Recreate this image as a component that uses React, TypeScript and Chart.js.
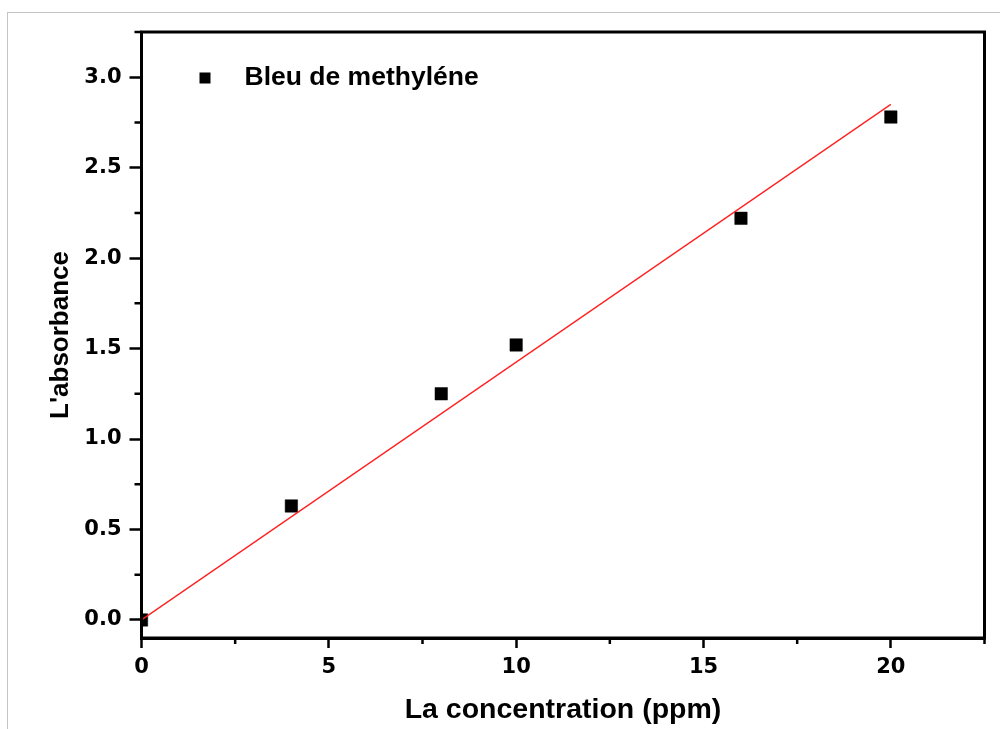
import { useEffect, useRef } from "react";
import { Chart, registerables } from "chart.js";

Chart.register(...registerables);

// Calibration data: methylene blue absorbance vs concentration
const seriesLabel = "Bleu de methyléne";
const concentrations = [0, 4, 8, 10, 16, 20];
const absorbances = [0, 0.63, 1.25, 1.52, 2.22, 2.78];

// Linear fit (through origin) end points
const fitX = [0, 20];
const fitY = [0, 2.85];

// Axis ranges and tick values
const xRange = [0, 22.5];
const yRange = [-0.1, 3.25];
const xMajorTicks = [0, 5, 10, 15, 20];
const xMinorTicks = [2.5, 7.5, 12.5, 17.5, 22.5];
const yMajorTicks = [0, 0.5, 1.0, 1.5, 2.0, 2.5, 3.0];
const yMinorTicks = [0.25, 0.75, 1.25, 1.75, 2.25, 2.75, 3.25];

const xTitle = "La concentration (ppm)";
const yTitle = "L'absorbance";

const TEXT_FONT = "'Liberation Sans', Arial, sans-serif";
const TICK_FONT = "'DejaVu Sans', 'Liberation Sans', sans-serif";

const framePlugin = {
  id: "frameAndLegend",
  afterDatasetsDraw(chart: any) {
    const { ctx, chartArea, scales } = chart;
    const { left, right, top, bottom } = chartArea;
    ctx.save();
    ctx.strokeStyle = "#000";
    ctx.lineWidth = 3;
    ctx.strokeRect(left, top, right - left, bottom - top);

    // minor ticks
    ctx.lineWidth = 2.5;
    ctx.beginPath();
    for (const v of xMinorTicks) {
      const px = scales.x.getPixelForValue(v);
      ctx.moveTo(px, bottom);
      ctx.lineTo(px, bottom + 6);
    }
    for (const v of yMinorTicks) {
      const py = scales.y.getPixelForValue(v);
      ctx.moveTo(left, py);
      ctx.lineTo(left - 7, py);
    }
    ctx.stroke();

    // legend
    const mx = left + 63.5;
    const my = top + 46;
    ctx.fillStyle = "#000";
    ctx.fillRect(mx - 5.5, my - 5.5, 11, 11);
    ctx.font = `bold 26.5px ${TEXT_FONT}`;
    ctx.textBaseline = "middle";
    ctx.textAlign = "left";
    ctx.fillText(seriesLabel, left + 103, my);
    ctx.restore();
  },
};

export default function App() {
  const canvasRef = useRef<HTMLCanvasElement | null>(null);

  useEffect(() => {
    if (!canvasRef.current) return;
    const points = concentrations.map((x, i) => ({ x, y: absorbances[i] }));
    const fit = fitX.map((x, i) => ({ x, y: fitY[i] }));

    const chart = new Chart(canvasRef.current, {
      type: "scatter",
      data: {
        datasets: [
          {
            type: "line",
            label: "fit",
            data: fit,
            borderColor: "#ff2020",
            borderWidth: 1.3,
            pointRadius: 0,
            fill: false,
            order: 0,
            clip: 0,
          } as any,
          {
            label: seriesLabel,
            data: points,
            pointStyle: "rect",
            pointRadius: 8.8,
            pointBackgroundColor: "#000",
            pointBorderColor: "#000",
            pointBorderWidth: 0.5,
            showLine: false,
            order: 1,
            clip: 0,
          } as any,
        ],
      },
      options: {
        animation: false,
        responsive: false,
        events: [],
        layout: { padding: { top: 32, right: 15.5, bottom: 0, left: 0 } },
        plugins: {
          legend: { display: false },
          tooltip: { enabled: false },
        },
        scales: {
          x: {
            type: "linear",
            min: xRange[0],
            max: xRange[1],
            afterFit: (s: any) => {
              s.height = 91;
            },
            afterBuildTicks: (s: any) => {
              s.ticks = xMajorTicks.map((value) => ({ value }));
            },
            grid: {
              drawOnChartArea: false,
              drawTicks: true,
              tickLength: 10,
              tickWidth: 2.5,
              tickColor: "#000",
            },
            border: { display: true, color: "#000", width: 3 },
            ticks: {
              color: "#000",
              padding: 7,
              maxRotation: 0,
              font: { family: TICK_FONT, size: 21, weight: "bold" },
              callback: (v: any) => String(v),
            },
            title: {
              display: true,
              text: xTitle,
              color: "#000",
              padding: { top: 0, bottom: 2 },
              font: { family: TEXT_FONT, size: 28.5, weight: "bold" },
            },
          },
          y: {
            type: "linear",
            min: yRange[0],
            max: yRange[1],
            afterFit: (s: any) => {
              s.width = 141.5;
            },
            afterBuildTicks: (s: any) => {
              s.ticks = yMajorTicks.map((value) => ({ value }));
            },
            grid: {
              drawOnChartArea: false,
              drawTicks: true,
              tickLength: 12,
              tickWidth: 2.5,
              tickColor: "#000",
            },
            border: { display: true, color: "#000", width: 3 },
            ticks: {
              color: "#000",
              padding: 8,
              font: { family: TICK_FONT, size: 21, weight: "bold" },
              callback: (v: any) => Number(v).toFixed(1),
            },
            title: {
              display: true,
              text: yTitle,
              color: "#000",
              padding: { top: 45, bottom: 0 },
              font: { family: TEXT_FONT, size: 26, weight: "bold" },
            },
          },
        },
      },
      plugins: [framePlugin],
    });

    return () => chart.destroy();
  }, []);

  return (
    <div
      style={{
        position: "fixed",
        left: 0,
        top: 0,
        width: 1000,
        height: 729,
        background: "#fff",
        overflow: "hidden",
      }}
    >
      <div
        style={{
          position: "absolute",
          left: 7,
          top: 12,
          right: 0,
          bottom: 0,
          borderTop: "1px solid #c4c4c4",
          borderLeft: "1px solid #c4c4c4",
        }}
      />
      <canvas
        ref={canvasRef}
        width={1000}
        height={729}
        style={{ position: "absolute", left: 0, top: 0, width: 1000, height: 729 }}
      />
    </div>
  );
}
